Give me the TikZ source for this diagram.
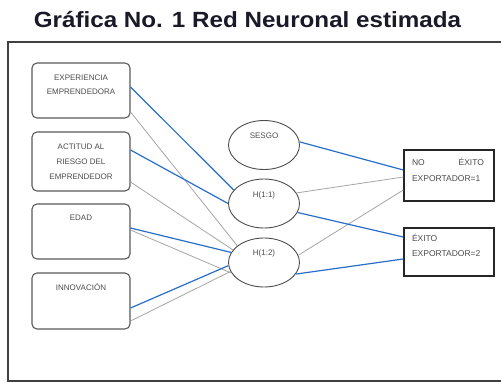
\documentclass[tikz,border=0pt]{standalone}
\usepackage{fontspec}
\setmainfont{Liberation Sans}
\usetikzlibrary{shapes.geometric}
\definecolor{wblue}{RGB}{40,110,200}
\definecolor{wgray}{RGB}{165,165,165}
\definecolor{titlec}{RGB}{25,25,40}
\begin{document}
\begin{tikzpicture}[x=1pt,y=-1pt,
  inbox/.style={draw=black!65, line width=1.1pt, rounded corners=5pt, inner sep=0pt,
    font=\fontsize{8}{14}\selectfont, text=black!70},
  outbox/.style={draw=black!85, line width=1.4pt, inner sep=0pt,
    font=\fontsize{8.5}{16}\selectfont, text=black!70},
  neuron/.style={ellipse, draw=black!70, line width=0.9pt, minimum width=71pt,
    minimum height=49pt, inner sep=0pt},
  lbl/.style={font=\fontsize{8}{10}\selectfont, text=black!70},
  wpos/.style={draw=wblue, line width=1.2pt},
  wneg/.style={draw=wgray, line width=0.8pt},
  frame/.style={draw=black!75, line width=1.5pt}]
\useasboundingbox (0,0) rectangle (501,383);

\node[font=\bfseries\fontsize{22}{24}\selectfont, text=titlec, anchor=base] (title) at (247.5,27)
  {\scalebox{1.1}[1]{Gráfica No. 1 Red Neuronal estimada}};
\draw[frame] (501,42) -- (8,42) -- (8,381) -- (501,381);

% input boxes
\node[inbox] (b1) at (81,90.5) {\parbox[c][55pt][t]{98pt}{\centering\rule{0pt}{17pt}EXPERIENCIA\\EMPRENDEDORA}};
\node[inbox] (b2) at (81,161.5) {\parbox[c][59pt][t]{98pt}{\centering\fontsize{8}{15}\selectfont\rule{0pt}{17pt}ACTITUD AL\\RIESGO DEL\\EMPRENDEDOR}};
\node[inbox] (b3) at (81,231.5) {\parbox[c][55pt][t]{98pt}{\centering\rule{0pt}{16pt}EDAD}};
\node[inbox] (b4) at (81,301) {\parbox[c][56pt][t]{98pt}{\centering\rule{0pt}{17pt}INNOVACIÓN}};

% neurons
\node[neuron, label={[lbl,yshift=9pt]center:SESGO}] (s) at (264,145) {};
\node[neuron, label={[lbl,yshift=8pt]center:H(1:1)}] (h1) at (264,203.5) {};
\node[neuron, label={[lbl,yshift=9pt]center:H(1:2)}] (h2) at (264,262.5) {};

% output boxes
\node[outbox] (o1) at (449,175.5) {\parbox[c][51pt][t]{90pt}{\leftskip=8pt\rightskip=10pt\rule{0pt}{15pt}NO\hfill ÉXITO\\EXPORTADOR=1}};
\node[outbox] (o2) at (449,252) {\parbox[c][48pt][t]{90pt}{\fontsize{8.5}{15}\selectfont\leftskip=8pt\rule{0pt}{13pt}ÉXITO\\EXPORTADOR=2}};

% input -> hidden
\draw[wneg] ([yshift=-21.5pt]b1.east) -- (h2.148);
\draw[wneg] ([yshift=-20.5pt]b2.east) -- (h2.158);
\draw[wneg] ([yshift=1.5pt]b3.east) -- (h2.198);
\draw[wneg] ([yshift=-20pt]b4.east) -- (h2.195);
\draw[wpos] ([yshift=3.5pt]b1.east) -- (h1.156);
\draw[wpos] ([yshift=11.5pt]b2.east) -- (h1.180);
\draw[wpos] ([yshift=3.5pt]b3.east) -- (h2.163);
\draw[wpos] ([yshift=-7pt]b4.east) -- (h2.185);

% hidden -> output
\draw[wneg] (h1.18) -- ([yshift=-1.5pt]o1.west);
\draw[wneg] (h2.12) -- ([yshift=-14.5pt]o1.west);
\draw[wpos] (s.5) -- ([yshift=5.5pt]o1.west);
\draw[wpos] (h1.-15) -- ([yshift=15pt]o2.west);
\draw[wpos] (h2.-20) -- ([yshift=-7pt]o2.west);
\end{tikzpicture}
\end{document}
